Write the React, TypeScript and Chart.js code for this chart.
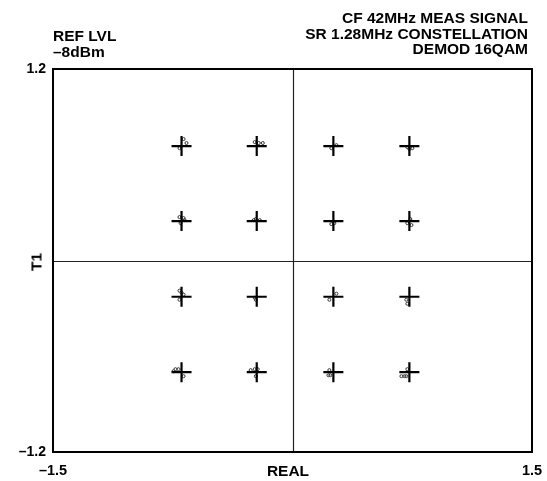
import React, { useEffect, useRef } from 'react';
import { Chart, registerables } from 'chart.js';

Chart.register(...registerables);

// Axis limits / tick labels
const X_TICKS = [-1.5, 1.5];
const Y_TICKS = [-1.2, 1.2];

// 16QAM constellation symbol centres
const SYMBOL_I = [
  -0.695, -0.224, 0.256, 0.732,
  -0.695, -0.224, 0.256, 0.732,
  -0.695, -0.224, 0.256, 0.732,
  -0.695, -0.224, 0.256, 0.732,
];
const SYMBOL_Q = [
  0.717, 0.717, 0.717, 0.717,
  0.247, 0.247, 0.247, 0.247,
  -0.227, -0.227, -0.227, -0.227,
  -0.700, -0.700, -0.700, -0.700,
];

const SAMPLE_I = [
  -0.682, -0.664, -0.708,
  -0.237, -0.211, -0.186,
  0.275, 0.243,
  0.719, 0.732, 0.751,
  -0.708, -0.682, -0.701, -0.676,
  -0.243, -0.230, -0.205,
  0.243, 0.262,
  0.719, 0.745, 0.738,
  -0.708, -0.695, -0.682, -0.708,
  -0.237, -0.230,
  0.275, 0.231,
  0.713, 0.719,
  -0.733, -0.714, -0.745, -0.682,
  -0.262, -0.237, -0.218, -0.230,
  0.231, 0.225, 0.237,
  0.719, 0.682, 0.701, 0.713,
];
const SAMPLE_Q = [
  0.761, 0.736, 0.704,
  0.742, 0.736, 0.736,
  0.723, 0.704,
  0.711, 0.698, 0.704,
  0.272, 0.266, 0.234, 0.253,
  0.253, 0.260, 0.253,
  0.228, 0.234,
  0.234, 0.222, 0.260,
  -0.189, -0.202, -0.214, -0.246,
  -0.233, -0.246,
  -0.208, -0.246,
  -0.246, -0.271,
  -0.681, -0.681, -0.694, -0.725,
  -0.687, -0.681, -0.681, -0.725,
  -0.687, -0.719, -0.719,
  -0.681, -0.725, -0.725, -0.725,
];

const FONT = '"Liberation Sans", Arial, Helvetica, sans-serif';

const fmt = (v: number) => (v < 0 ? '\u2013' + Math.abs(v).toFixed(1) : v.toFixed(1));

const framePlugin = {
  id: 'frame',
  beforeDatasetsDraw(chart: any) {
    const { ctx, chartArea } = chart;
    const { left, right, top, bottom } = chartArea;
    const xs = chart.scales.x;
    const ys = chart.scales.y;
    const x0 = Math.round(xs.getPixelForValue(0)) + 0.5;
    const y0 = Math.round(ys.getPixelForValue(0)) + 0.5;
    ctx.save();
    ctx.strokeStyle = '#222';
    ctx.lineWidth = 1.2;
    ctx.beginPath();
    ctx.moveTo(x0, top);
    ctx.lineTo(x0, bottom);
    ctx.moveTo(left, y0);
    ctx.lineTo(right, y0);
    ctx.stroke();
    ctx.strokeStyle = '#000';
    ctx.lineWidth = 2;
    ctx.strokeRect(left, top, right - left, bottom - top);
    ctx.restore();
  },
};

function ConstellationChart() {
  const ref = useRef<HTMLCanvasElement | null>(null);

  useEffect(() => {
    if (!ref.current) return;
    const symbols = SYMBOL_I.map((v, i) => ({ x: v, y: SYMBOL_Q[i] }));
    const samples = SAMPLE_I.map((v, i) => ({ x: v, y: SAMPLE_Q[i] }));
    const chart = new Chart(ref.current, {
      type: 'scatter',
      data: {
        datasets: [
          {
            label: 'symbols',
            data: symbols,
            pointStyle: 'cross',
            pointRadius: 10,
            pointBorderWidth: 2.2,
            borderColor: '#000',
            backgroundColor: '#000',
          },
          {
            label: 'samples',
            data: samples,
            pointStyle: 'circle',
            pointRadius: 1.5,
            pointBorderWidth: 1,
            borderColor: '#333',
            backgroundColor: 'rgba(255,255,255,0)',
          },
        ],
      },
      options: {
        responsive: false,
        animation: false,
        devicePixelRatio: 1,
        layout: { padding: { left: 0, right: 15, top: 69, bottom: 0 } },
        plugins: {
          legend: { display: false },
          tooltip: { enabled: false },
        },
        scales: {
          x: {
            type: 'linear',
            min: X_TICKS[0],
            max: X_TICKS[1],
            grid: { display: false, drawTicks: false },
            border: { display: false },
            afterBuildTicks: (scale: any) => {
              scale.ticks = X_TICKS.map((v) => ({ value: v }));
            },
            afterFit: (scale: any) => {
              scale.height = 29;
              scale.paddingLeft = 0;
              scale.paddingRight = 0;
            },
            ticks: {
              padding: 10,
              color: '#000',
              maxRotation: 0,
              autoSkip: false,
              font: { family: FONT, size: 14.5, weight: 'bold' },
              callback: (v: any) => fmt(Number(v)),
            },
          },
          y: {
            type: 'linear',
            min: Y_TICKS[0],
            max: Y_TICKS[1],
            grid: { display: false, drawTicks: false },
            border: { display: false },
            afterBuildTicks: (scale: any) => {
              scale.ticks = Y_TICKS.map((v) => ({ value: v }));
            },
            afterFit: (scale: any) => {
              scale.width = 53;
              scale.paddingTop = 0;
              scale.paddingBottom = 0;
            },
            ticks: {
              padding: 7,
              color: '#000',
              autoSkip: false,
              font: { family: FONT, size: 14, weight: 'bold' },
              callback: (v: any) => fmt(Number(v)),
            },
          },
        },
      },
      plugins: [framePlugin],
    } as any);
    return () => chart.destroy();
  }, []);

  const txt: React.CSSProperties = {
    position: 'absolute',
    fontFamily: FONT,
    fontWeight: 'bold',
    fontSize: '15.5px',
    lineHeight: '15px',
    color: '#000',
    whiteSpace: 'nowrap',
  };

  return (
    <div style={{ position: 'fixed', left: 0, top: 0, width: 547, height: 481, background: '#fff' }}>
      <canvas ref={ref} width={547} height={481} style={{ display: 'block' }} />
      <div style={{ ...txt, left: 53, top: 28 }}>REF LVL</div>
      <div style={{ ...txt, left: 53, top: 44 }}>{'\u20138dBm'}</div>
      <div style={{ ...txt, right: 547 - 528, top: 10, textAlign: 'right' }}>CF 42MHz MEAS SIGNAL</div>
      <div style={{ ...txt, right: 547 - 528, top: 25.5, textAlign: 'right' }}>SR 1.28MHz CONSTELLATION</div>
      <div style={{ ...txt, right: 547 - 528, top: 41, textAlign: 'right' }}>DEMOD 16QAM</div>
      <div style={{ ...txt, left: 288, top: 462.5, transform: 'translateX(-50%)' }}>REAL</div>
      <div
        style={{
          ...txt,
          left: 35.5,
          top: 262,
          transform: 'translate(-50%, -50%) rotate(-90deg)',
        }}
      >
        T1
      </div>
    </div>
  );
}

export default function App() {
  return <ConstellationChart />;
}
